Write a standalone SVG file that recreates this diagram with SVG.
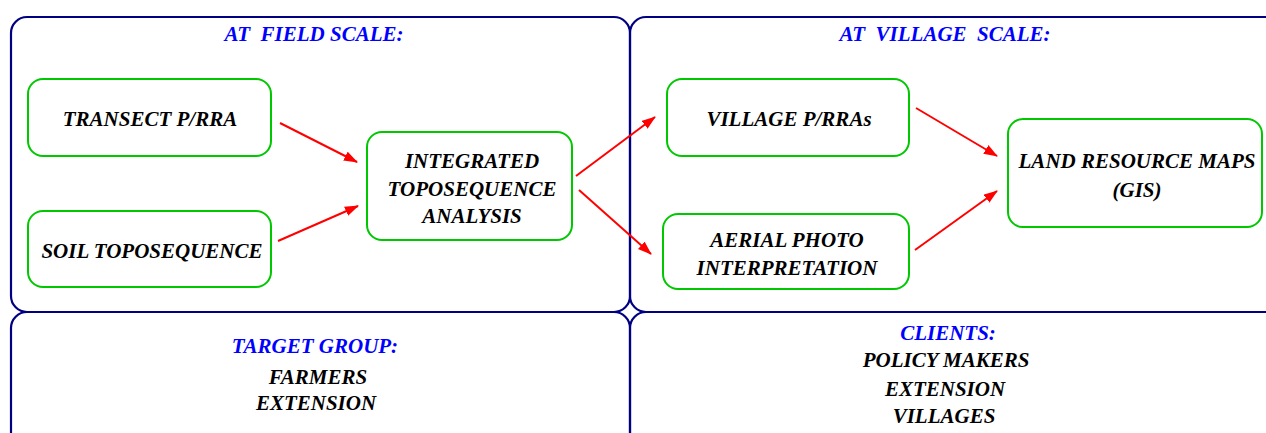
<svg xmlns="http://www.w3.org/2000/svg" width="1266" height="433" viewBox="0 0 1266 433">
<style>
.frame{fill:none;stroke:#000080;stroke-width:2.2}
.box{fill:#fff;stroke:#00c800;stroke-width:2}
.t{font-family:"Liberation Serif","Times New Roman",serif;font-weight:bold;font-style:italic;font-size:21px;fill:#000;text-anchor:middle}
.h{fill:#0000ff}
.arr{stroke:#ff0000;stroke-width:2;fill:none;marker-end:url(#ah)}
</style>
<defs>
<marker id="ah" viewBox="0 0 14 10" refX="13" refY="5" markerWidth="14" markerHeight="10" markerUnits="userSpaceOnUse" orient="auto">
<path d="M0,0 L14,5 L0,10 Z" fill="#ff0000"/>
</marker>
</defs>
<rect width="1266" height="433" fill="#fff"/>
<g id="frames">
<rect id="frame-field" class="frame" x="11" y="17" width="619" height="295" rx="16"/>
<rect id="frame-village" class="frame" x="630" y="17" width="660" height="295" rx="16"/>
<rect id="frame-target" class="frame" x="11" y="312" width="619" height="140" rx="16"/>
<rect id="frame-clients" class="frame" x="630" y="312" width="660" height="140" rx="16"/>
</g>
<g id="labels">
<text class="t h" x="314" y="41" xml:space="preserve">AT  FIELD SCALE:</text>
<text class="t h" x="945" y="41" xml:space="preserve">AT  VILLAGE  SCALE:</text>
</g>
<g id="target-group">
<text class="t h" x="315" y="353">TARGET GROUP:</text>
<text class="t" x="318" y="384">FARMERS</text>
<text class="t" x="316" y="410">EXTENSION</text>
</g>
<g id="clients">
<text class="t h" x="948" y="340">CLIENTS:</text>
<text class="t" x="946" y="367">POLICY MAKERS</text>
<text class="t" x="945" y="396">EXTENSION</text>
<text class="t" x="944" y="423">VILLAGES</text>
</g>
<g id="connectors">
<line class="arr" x1="280" y1="123" x2="357" y2="162"/>
<line class="arr" x1="278" y1="241" x2="358" y2="206"/>
<line class="arr" x1="576" y1="176" x2="655" y2="117"/>
<line class="arr" x1="579" y1="190" x2="651" y2="254"/>
<line class="arr" x1="916" y1="108" x2="997" y2="156"/>
<line class="arr" x1="915" y1="250" x2="997" y2="191"/>
</g>
<g id="n-transect">
<rect class="box" x="28" y="79" width="243" height="77" rx="15"/>
<text class="t" x="150" y="126">TRANSECT P/RRA</text>
</g>
<g id="n-soil">
<rect class="box" x="28" y="211" width="243" height="76" rx="15"/>
<text class="t" x="152" y="258">SOIL TOPOSEQUENCE</text>
</g>
<g id="n-integrated">
<rect class="box" x="367" y="132" width="205" height="108" rx="15"/>
<text class="t" x="472" y="168">INTEGRATED</text>
<text class="t" x="472" y="196">TOPOSEQUENCE</text>
<text class="t" x="472" y="223">ANALYSIS</text>
</g>
<g id="n-village">
<rect class="box" x="667" y="79" width="242" height="77" rx="15"/>
<text class="t" x="789" y="126">VILLAGE P/RRAs</text>
</g>
<g id="n-aerial">
<rect class="box" x="663" y="214" width="246" height="75" rx="15"/>
<text class="t" x="787" y="247">AERIAL PHOTO</text>
<text class="t" x="787" y="275">INTERPRETATION</text>
</g>
<g id="n-land">
<rect class="box" x="1008" y="119" width="254" height="108" rx="15"/>
<text class="t" x="1137" y="168">LAND RESOURCE MAPS</text>
<text class="t" x="1137" y="197">(GIS)</text>
</g>
</svg>
